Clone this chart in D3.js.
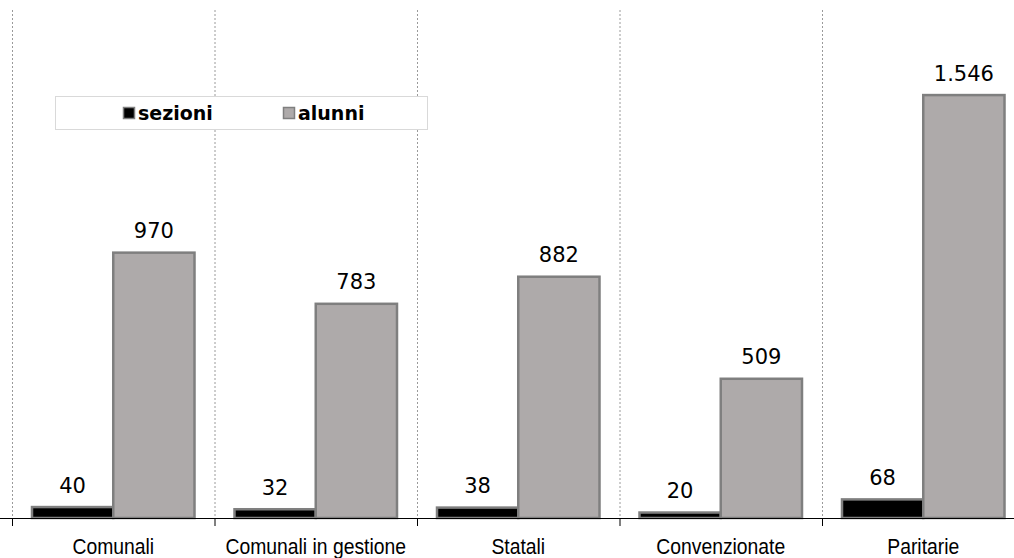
<!DOCTYPE html>
<html><head><meta charset="utf-8">
<script src="https://cdn.jsdelivr.net/npm/d3@7"></script>
<style>body{margin:0;background:#fff}</style>
</head><body>
<svg id="c" width="1014" height="558"></svg>
<script>
const categories = ["Comunali","Comunali in gestione","Statali","Convenzionate","Paritarie"];
const seriesNames = ["sezioni","alunni"];
const sezioni = [40,32,38,20,68];
const alunni = [970,783,882,509,1546];

(function(){
const svg = d3.select("#c");
const pLeft = 12, pRight = 1024.5, base = 518, pTop = 10;
const x = d3.scaleBand().domain(categories).range([pLeft, pRight]).paddingInner(0).paddingOuter(0);
const xs = d3.scaleBand().domain(seriesNames).range([20, x.bandwidth()-20]).padding(0);
const y = d3.scaleLinear().domain([0, 1857]).range([base, pTop]);
const fmt = d3.formatLocale({decimal:",", thousands:".", grouping:[3], currency:["€",""]}).format(",d");

const bounds = categories.map(c => x(c));
svg.selectAll("line.grid").data(bounds).enter().append("line")
  .attr("x1", d=>d+0.5).attr("x2", d=>d+0.5).attr("y1", pTop).attr("y2", base)
  .attr("stroke", "#9a9a9a").attr("stroke-width", 1).attr("stroke-dasharray", "2,2");

const data = [];
categories.forEach((c,i)=>{ data.push({c, s:"sezioni", v:sezioni[i]}); data.push({c, s:"alunni", v:alunni[i]}); });
const fill = {sezioni:"#000000", alunni:"#aeaaaa"};

svg.selectAll("rect.bar").data(data).enter().append("rect")
  .attr("x", d=>x(d.c)+xs(d.s)).attr("width", xs.bandwidth())
  .attr("y", d=>y(d.v)).attr("height", d=>base - y(d.v))
  .attr("fill", d=>fill[d.s]).attr("stroke", "#7f7f7f").attr("stroke-width", 2.5);

svg.selectAll("text.lbl").data(data).enter().append("text")
  .attr("x", d=>x(d.c)+xs(d.s)+xs.bandwidth()/2).attr("y", d=>y(d.v)-14.5)
  .attr("text-anchor","middle").attr("font-family","DejaVu Sans, Verdana, sans-serif")
  .attr("font-size", 21).attr("fill","#000").text(d=>fmt(d.v));

// category labels (condensed look)
svg.selectAll("text.cat").data(categories).enter().append("text")
  .attr("transform", d=>`translate(${x(d)+x.bandwidth()/2},${base+36}) scale(0.86,1)`)
  .attr("text-anchor","middle").attr("font-family","Liberation Sans, Arial, sans-serif")
  .attr("font-size", 22.5).attr("fill","#000").text(d=>d);

svg.append("line").attr("x1", 0).attr("x2", 1014).attr("y1", base+0.5).attr("y2", base+0.5).attr("stroke","#000").attr("stroke-width",1);
svg.selectAll("line.tk").data(bounds).enter().append("line")
  .attr("x1", d=>d+0.5).attr("x2", d=>d+0.5).attr("y1", base).attr("y2", base+8)
  .attr("stroke","#000").attr("stroke-width",1);

const lg = svg.append("g");
lg.append("rect").attr("x",55.5).attr("y",96.5).attr("width",372).attr("height",33).attr("fill","#fff").attr("stroke","#d9d9d9");
const lx = [123, 283];
seriesNames.forEach((s,i)=>{
  lg.append("rect").attr("x",lx[i]+0.5).attr("y",107.5).attr("width",11).attr("height",11).attr("fill",fill[s]).attr("stroke","#7f7f7f").attr("stroke-width",1.5);
  lg.append("text").attr("x",lx[i]+15).attr("y",120).attr("font-family","DejaVu Sans, Verdana, sans-serif").attr("font-weight","bold").attr("font-size",19).attr("fill","#000").text(s);
});
})();
</script>
</body></html>
